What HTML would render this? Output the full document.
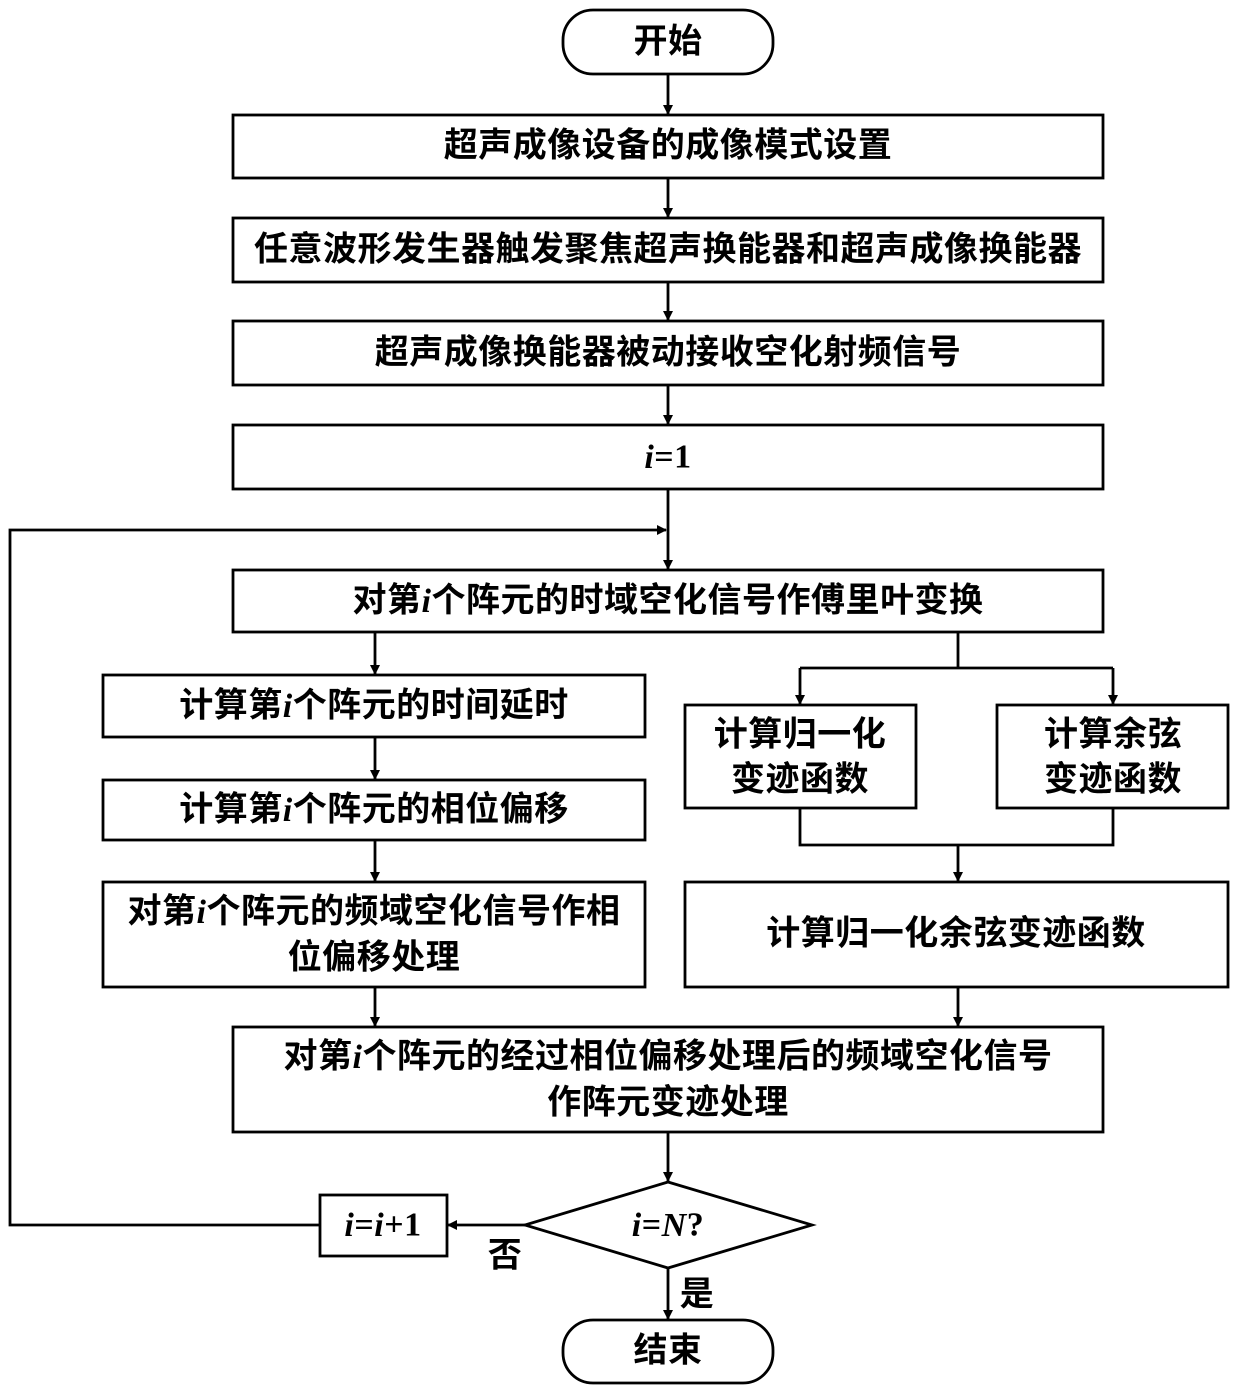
<!DOCTYPE html>
<html><head><meta charset="utf-8">
<style>
html,body{margin:0;padding:0;background:#fff;}
svg{display:block;}
text{font-family:"Liberation Serif","Noto Sans CJK SC","WenQuanYi Zen Hei",sans-serif;font-weight:bold;font-size:34px;fill:#000;text-anchor:middle;dominant-baseline:central;letter-spacing:0.5px;}
.b{fill:#fff;stroke:#000;stroke-width:2.8;}
.l{stroke:#000;stroke-width:2.8;fill:none;}
</style></head><body>
<svg width="1240" height="1395" viewBox="0 0 1240 1395" xmlns="http://www.w3.org/2000/svg">
<defs><marker id="a" markerWidth="10" markerHeight="10" refX="9" refY="5" orient="auto" markerUnits="userSpaceOnUse"><path d="M0,0 L10,5 L0,10 z" fill="#000"/></marker></defs>

<rect class="b" x="563" y="10" width="210" height="64" rx="30"/>
<text x="668" y="42">开始</text>
<line class="l" x1="668" y1="74" x2="668" y2="114" marker-end="url(#a)"/>

<rect class="b" x="233" y="115" width="870" height="63"/>
<text x="668" y="146">超声成像设备的成像模式设置</text>
<line class="l" x1="668" y1="178" x2="668" y2="217" marker-end="url(#a)"/>

<rect class="b" x="233" y="218" width="870" height="64"/>
<text x="668" y="250">任意波形发生器触发聚焦超声换能器和超声成像换能器</text>
<line class="l" x1="668" y1="282" x2="668" y2="320" marker-end="url(#a)"/>

<rect class="b" x="233" y="321" width="870" height="64"/>
<text x="668" y="353">超声成像换能器被动接收空化射频信号</text>
<line class="l" x1="668" y1="385" x2="668" y2="424" marker-end="url(#a)"/>

<rect class="b" x="233" y="425" width="870" height="64"/>
<text x="668" y="457"><tspan font-style="italic">i</tspan>=1</text>
<line class="l" x1="668" y1="489" x2="668" y2="569" marker-end="url(#a)"/>
<polyline class="l" points="320,1225 10,1225 10,530 666,530" marker-end="url(#a)"/>

<rect class="b" x="233" y="570" width="870" height="62"/>
<text x="668" y="601">对第<tspan font-style="italic">i</tspan>个阵元的时域空化信号作傅里叶变换</text>

<line class="l" x1="375" y1="632" x2="375" y2="674" marker-end="url(#a)"/>
<line class="l" x1="958" y1="632" x2="958" y2="668"/>
<line class="l" x1="800" y1="668" x2="1113" y2="668"/>
<line class="l" x1="800" y1="668" x2="800" y2="704" marker-end="url(#a)"/>
<line class="l" x1="1113" y1="668" x2="1113" y2="704" marker-end="url(#a)"/>

<rect class="b" x="103" y="675" width="542" height="62"/>
<text x="374" y="706">计算第<tspan font-style="italic">i</tspan>个阵元的时间延时</text>
<line class="l" x1="375" y1="737" x2="375" y2="779" marker-end="url(#a)"/>

<rect class="b" x="103" y="780" width="542" height="60"/>
<text x="374" y="810">计算第<tspan font-style="italic">i</tspan>个阵元的相位偏移</text>
<line class="l" x1="375" y1="840" x2="375" y2="881" marker-end="url(#a)"/>

<rect class="b" x="103" y="882" width="542" height="105"/>
<text x="374" y="912">对第<tspan font-style="italic">i</tspan>个阵元的频域空化信号作相</text>
<text x="374" y="958">位偏移处理</text>

<rect class="b" x="685" y="705" width="231" height="103"/>
<text x="800" y="735">计算归一化</text>
<text x="800" y="780">变迹函数</text>
<rect class="b" x="997" y="705" width="231" height="103"/>
<text x="1113" y="735">计算余弦</text>
<text x="1113" y="780">变迹函数</text>

<polyline class="l" points="800,808 800,845 1113,845 1113,808"/>
<line class="l" x1="958" y1="845" x2="958" y2="881" marker-end="url(#a)"/>

<rect class="b" x="685" y="882" width="543" height="105"/>
<text x="956" y="934">计算归一化余弦变迹函数</text>

<line class="l" x1="375" y1="987" x2="375" y2="1026" marker-end="url(#a)"/>
<line class="l" x1="958" y1="987" x2="958" y2="1026" marker-end="url(#a)"/>

<rect class="b" x="233" y="1027" width="870" height="105"/>
<text x="668" y="1057">对第<tspan font-style="italic">i</tspan>个阵元的经过相位偏移处理后的频域空化信号</text>
<text x="668" y="1103">作阵元变迹处理</text>
<line class="l" x1="668" y1="1132" x2="668" y2="1181" marker-end="url(#a)"/>

<polygon class="b" points="668,1182 812,1225 668,1268 525,1225"/>
<text x="668" y="1225"><tspan font-style="italic">i</tspan>=<tspan font-style="italic">N</tspan>?</text>
<line class="l" x1="525" y1="1225" x2="448" y2="1225" marker-end="url(#a)"/>

<rect class="b" x="320" y="1195" width="127" height="61"/>
<text x="383" y="1225"><tspan font-style="italic">i</tspan>=<tspan font-style="italic">i</tspan>+1</text>
<text x="505" y="1256">否</text>
<text x="697" y="1295">是</text>

<line class="l" x1="668" y1="1268" x2="668" y2="1319" marker-end="url(#a)"/>
<rect class="b" x="563" y="1320" width="210" height="63" rx="30"/>
<text x="668" y="1351">结束</text>
</svg>
</body></html>
